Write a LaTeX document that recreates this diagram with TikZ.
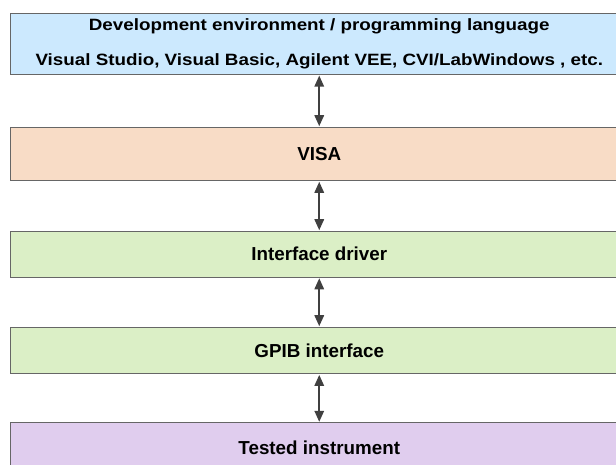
\documentclass[tikz,border=0pt]{standalone}
\usepackage{fontspec}
\usepackage{graphicx}
\setmainfont{Liberation Sans}
\usetikzlibrary{arrows.meta}
\definecolor{devblue}{HTML}{CCE9FE}
\definecolor{visaorange}{HTML}{F8DCC6}
\definecolor{drvgreen}{HTML}{DBEFC6}
\definecolor{instpurple}{HTML}{E0CDEE}
\definecolor{edgegray}{HTML}{666666}
\definecolor{arrowgray}{HTML}{404040}
% the heading lines are set wide but slightly flattened
\newcommand{\flatline}[1]{\scalebox{1}[0.87]{#1}}
\tikzset{
  layer/.style={draw=edgegray, line width=1.1pt, rectangle, minimum width=617.5pt,
    anchor=north, inner sep=0pt, font=\bfseries\fontsize{18.8}{21}\selectfont, align=center},
  link/.style={draw=arrowgray, line width=1.6pt,
    {Triangle[length=11pt,width=9.5pt]}-{Triangle[length=11pt,width=9.5pt]}, shorten <=0.5pt, shorten >=0.5pt}
}
\begin{document}
\begin{tikzpicture}[x=1pt,y=-1pt]
\useasboundingbox (0,0) rectangle (616,464);
\clip (0,0) rectangle (616,464);
\node[layer, fill=devblue, minimum height=61pt] (dev) at (319.25,13)
  {\flatline{Development environment / programming language}\\[14pt]\flatline{Visual Studio, Visual Basic, Agilent VEE, CVI/LabWindows , etc.}};
\node[layer, fill=visaorange, minimum height=53.5pt] (visa) at (319.25,126.7) {VISA};
\node[layer, fill=drvgreen, minimum height=46pt] (drv) at (319.25,230.7) {Interface driver};
\node[layer, fill=drvgreen, minimum height=46.6pt] (gpib) at (319.25,326.7) {GPIB interface};
\node[layer, fill=instpurple, minimum height=50pt] (inst) at (319.25,422.3) {Tested instrument};
\draw[link] (dev.south) -- (visa.north);
\draw[link] (visa.south) -- (drv.north);
\draw[link] (drv.south) -- (gpib.north);
\draw[link] (gpib.south) -- (inst.north);
\end{tikzpicture}
\end{document}
